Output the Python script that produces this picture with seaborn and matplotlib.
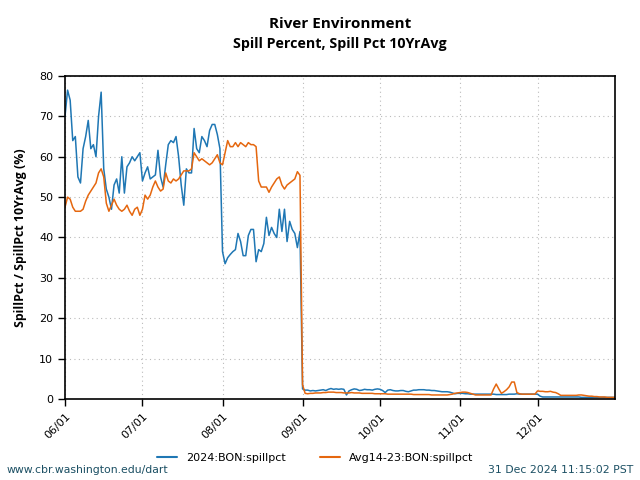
import numpy as np
import pandas as pd
import matplotlib
matplotlib.use("Agg")
import matplotlib.pyplot as plt
import matplotlib.dates as mdates
import seaborn as sns

start_date = "2024-06-01"
series_names = ["2024:BON:spillpct", "Avg14-23:BON:spillpct"]
colors = ["#1f77b4", "#e5670f"]

blue_jun = [70, 76.5, 74, 64, 65, 55, 53.5, 62, 65, 69, 62, 63, 60, 70, 76,
            57, 52, 50, 47, 53, 54.5, 51, 60, 51, 57.5, 58.5, 60, 59, 60, 61]
blue_jul = [54, 56, 57.5, 54.5, 55, 55.5, 61.6, 55, 52.5, 58, 63, 64, 63.5, 65, 60,
            53, 48, 57, 56, 56, 67, 62, 61, 65, 64, 62.5, 66.5, 68, 68, 65.5, 62]
blue_aug = [36.5, 33.5, 35, 35.8, 36.5, 37, 41, 39, 35.5, 35.5, 40.5, 42, 42, 34, 37,
            36.5, 38.5, 45, 40.5, 42.5, 41, 40, 47, 41.5, 47, 39, 44, 42, 41, 37.5, 41.5]
blue_sep = [2.5, 2.2, 2.2, 2.0, 2.1, 2.0, 2.1, 2.2, 2.3, 2.1, 2.4, 2.6, 2.4, 2.5, 2.4,
            2.5, 2.4, 1.0, 2.0, 2.3, 2.5, 2.4, 2.1, 2.2, 2.4, 2.3, 2.3, 2.2, 2.4, 2.5]
blue_oct = [2.4, 2.1, 1.6, 2.2, 2.3, 2.1, 2.0, 2.0, 2.1, 2.1, 1.9, 1.8, 2.0, 2.2, 2.2,
            2.3, 2.3, 2.3, 2.2, 2.2, 2.1, 2.1, 2.0, 1.9, 1.8, 1.8, 1.8, 1.7, 1.5, 1.3, 1.4]
blue_nov = [1.4, 1.4, 1.3, 1.3, 1.2, 1.2, 1.2, 1.2, 1.2, 1.2, 1.2, 1.2, 1.2, 1.2, 1.1,
            1.1, 1.1, 1.1, 1.1, 1.2, 1.2, 1.2, 1.3, 1.2, 1.2, 1.2, 1.2, 1.2, 1.2, 1.2]
blue_dec = [1.2, 0.7, 0.5, 0.5, 0.5, 0.5, 0.5, 0.5, 0.5, 0.5, 0.5, 0.5, 0.5, 0.5, 0.5,
            0.5, 0.5, 0.4, 0.4, 0.4, 0.4, 0.4, 0.4, 0.4, 0.4, 0.4, 0.4, 0.4, 0.4, 0.4, 0.4]

orange_jun = [47.5, 50, 49.5, 47.5, 46.5, 46.5, 46.5, 47, 49, 50.5, 51.5, 52.5, 53.5, 56, 57,
              55, 48.5, 46.5, 48, 49.5, 48, 47, 46.5, 47, 48, 46.5, 45.5, 47, 47.5, 45.5]
orange_jul = [47, 50.5, 49.5, 50.5, 52.5, 54, 52.5, 51.5, 52, 56, 54, 53.5, 54.5, 54, 54.5,
              55.5, 56.5, 56.5, 56.5, 57, 61, 60, 59, 59.5, 59, 58.5, 58, 58.5, 59.5, 60.5, 58.5]
orange_aug = [58, 61, 64, 62.5, 62.5, 63.5, 62.5, 63.5, 63, 62.5, 63.5, 63, 63, 62.5, 54,
              52.5, 52.5, 52.5, 51.2, 52.5, 53.5, 54.5, 55, 53, 52, 53, 53.5, 54, 54.5, 56.3, 55.4]
orange_sep = [3.5, 1.4, 1.3, 1.4, 1.4, 1.5, 1.5, 1.5, 1.6, 1.6, 1.7, 1.7, 1.7, 1.6, 1.6,
              1.6, 1.5, 1.5, 1.5, 1.6, 1.5, 1.5, 1.5, 1.4, 1.4, 1.4, 1.4, 1.4, 1.3, 1.3]
orange_oct = [1.3, 1.3, 1.3, 1.2, 1.2, 1.2, 1.2, 1.2, 1.2, 1.2, 1.2, 1.2, 1.2, 1.1, 1.1,
              1.1, 1.1, 1.1, 1.1, 1.1, 1.0, 1.0, 1.0, 1.0, 1.0, 1.0, 1.0, 1.1, 1.2, 1.4, 1.5]
orange_nov = [1.6, 1.7, 1.7, 1.6, 1.4, 1.2, 1.0, 1.0, 1.0, 1.0, 1.0, 1.0, 1.0, 2.5, 3.7,
              2.5, 1.4, 1.8, 2.3, 3.0, 4.2, 4.2, 1.6, 1.3, 1.2, 1.2, 1.2, 1.2, 1.2, 1.2]
orange_dec = [2.0, 1.9, 1.9, 1.8, 1.8, 1.9, 1.7, 1.6, 1.3, 0.9, 0.9, 0.9, 0.9, 0.9, 0.9,
              0.9, 1.0, 1.0, 0.9, 0.8, 0.7, 0.7, 0.6, 0.6, 0.5, 0.5, 0.5, 0.4, 0.4, 0.4, 0.4]

blue = blue_jun + blue_jul + blue_aug + blue_sep + blue_oct + blue_nov + blue_dec
orange = orange_jun + orange_jul + orange_aug + orange_sep + orange_oct + orange_nov + orange_dec

frames = []
for name, vals in zip(series_names, [blue, orange]):
    frames.append(pd.DataFrame({
        "date": pd.date_range(start_date, periods=len(vals), freq="D"),
        "value": vals,
        "series": name,
    }))
df = pd.concat(frames, ignore_index=True)

sns.set_style("white")
plt.rcParams["font.family"] = ["DejaVu Sans"]
plt.rcParams["text.color"] = "black"
plt.rcParams["axes.labelcolor"] = "black"
plt.rcParams["xtick.color"] = "black"
plt.rcParams["ytick.color"] = "black"

fig = plt.figure(figsize=(6.4, 4.8), dpi=100)
ax = fig.add_axes([65 / 640, 81 / 480, 550 / 640, 323 / 480])

sns.lineplot(data=df, x="date", y="value", hue="series", palette=colors,
             hue_order=series_names, linewidth=1.1, ax=ax, legend=False)

ax.set_xlim(pd.Timestamp("2024-06-01"), pd.Timestamp("2024-12-31"))
ax.set_ylim(0, 80)
ax.set_yticks(range(0, 81, 10))
ax.xaxis.set_major_locator(mdates.MonthLocator())
ax.xaxis.set_major_formatter(mdates.DateFormatter("%m/%d"))
for lbl in ax.get_xticklabels():
    lbl.set_rotation(45)
    lbl.set_ha("right")
    lbl.set_rotation_mode("anchor")
ax.tick_params(axis="both", labelsize=8, length=5, width=1, colors="black",
               direction="out", bottom=True, left=True)
ax.grid(True, linestyle=(0, (1, 3)), color="#bbbbbb", linewidth=0.8)
for sp in ax.spines.values():
    sp.set_color("black")
    sp.set_linewidth(1.2)
ax.set_xlabel("")
ax.set_ylabel("SpillPct / SpillPct 10YrAvg (%)", fontsize=8.9, fontweight="bold",
              family="Open Sans", labelpad=9)

fig.text(340 / 640, 1 - 24 / 480, "River Environment", ha="center", va="center",
         fontsize=11, fontweight="bold", family="Open Sans")
fig.text(340 / 640, 1 - 44 / 480, "Spill Percent, Spill Pct 10YrAvg", ha="center",
         va="center", fontsize=10.3, fontweight="bold", family="Open Sans")

handles = [plt.Line2D([], [], color=c, linewidth=1.5) for c in colors]
fig.legend(handles, series_names, loc="center", bbox_to_anchor=(315 / 640, 1 - 458 / 480),
           ncol=2, frameon=False, fontsize=8, columnspacing=3.1, handlelength=1.8)

fig.text(7 / 640, 1 - 470 / 480, "www.cbr.washington.edu/dart", ha="left", va="center",
         fontsize=7.8, color="#1b4f63")
fig.text(633 / 640, 1 - 470 / 480, "31 Dec 2024 11:15:02 PST", ha="right", va="center",
         fontsize=7.8, color="#1b4f63")

fig.savefig("out.png", dpi=100)
